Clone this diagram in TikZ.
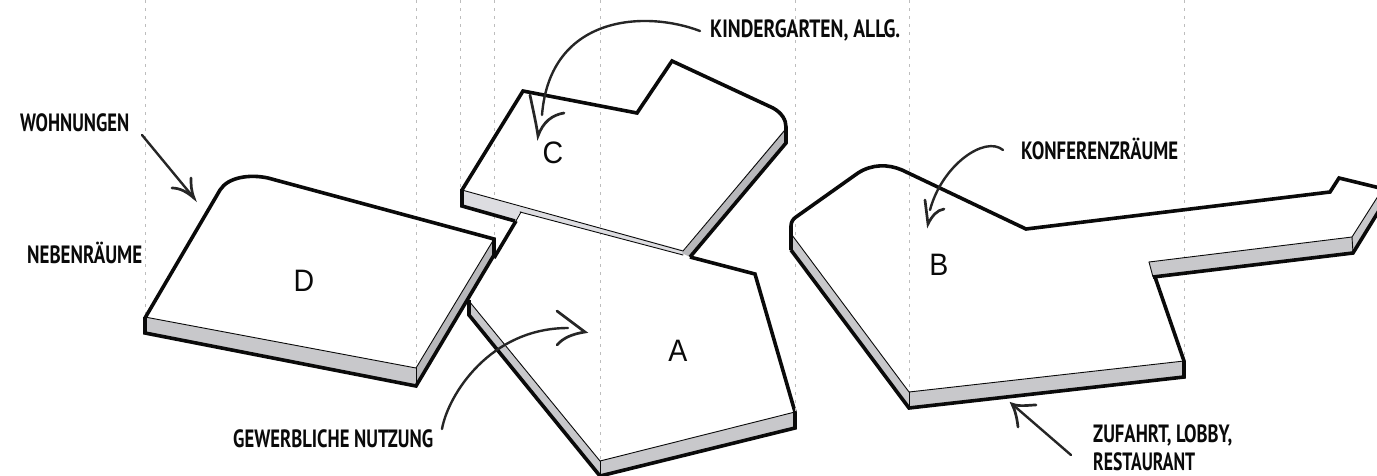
\documentclass[tikz,border=0pt]{standalone}
\usepackage{graphicx}
\usepackage{fontspec}
\setmainfont{Liberation Sans}
\newfontfamily\handfont{PT Sans}
\definecolor{inkc}{HTML}{0A0A0A}
\definecolor{arrowc}{HTML}{262626}
\definecolor{sidec}{HTML}{C8C8CB}
\definecolor{sidelight}{HTML}{DDDDE1}
\definecolor{guidec}{HTML}{BDBDBD}
\newcommand{\hand}[2]{\resizebox{#1}{\height}{\fontsize{25pt}{25pt}\selectfont\handfont\bfseries #2}}
\newcommand{\plate}[1]{\scalebox{0.92}[1]{#1}}
\tikzset{
  heavy/.style={draw=inkc,line width=3.6pt,line join=miter,line cap=butt},
  fine/.style={draw=inkc,line width=0.9pt,line cap=round},
  sideface/.style={fill=sidec,draw=none},
  lightface/.style={fill=sidelight,draw=none},
  guide/.style={draw=guidec,line width=1pt,dash pattern=on 3pt off 5pt},
  shaft/.style={draw=arrowc,line width=2.4pt,line cap=round},
  barb/.style={draw=arrowc,line width=2.7pt,line cap=round,line join=miter},
  note/.style={anchor=base west,inner sep=0pt,text=inkc},
  letter/.style={inner sep=0pt,font=\fontsize{31pt}{31pt}\selectfont,text=inkc}
}
\begin{document}
\begin{tikzpicture}[x=1pt,y=-1pt]
\useasboundingbox (0,0) rectangle (1377,475);
\clip (0,0) rectangle (1377,475);
% A lies beneath C and D
\fill[sideface] (469,301) -- (469,315) -- (600,476) -- (600,461) -- cycle;
\fill[sideface] (600,461) -- (600,476) -- (795,428) -- (795,412) -- cycle;
\draw[heavy] (516,221) -- (494,258);
\draw[heavy] (690,257) -- (755,274) -- (795,412) -- (795,428) -- (600,476) -- (469,315) -- (469,300);
\draw[fine] (469,301) -- (600,461) -- (795,412);
\draw[fine] (600,461) -- (600,476);
% white tops of C and D
\fill[white] (145,317) -- (220,190) .. controls (228,177) and (250,174) .. (268,178) -- (494,239) -- (416,368) -- cycle;
\fill[white] (523,91) -- (462,190) -- (683,253) -- (786,130) -- (773,108) -- (672,61) -- (637,113) -- cycle;
% guide lines
\draw[guide] (145,0) -- (145,318);
\draw[guide] (416,0) -- (416,368);
\draw[guide] (460,0) -- (460,190);
\draw[guide] (494,0) -- (494,240);
\draw[guide] (600,0) -- (600,461);
\draw[guide] (795,0) -- (795,412);
\draw[guide] (909,0) -- (909,392);
\draw[guide] (1184,0) -- (1184,361);
% D
\fill[sideface] (145,317) -- (145,333) -- (416,386) -- (416,368) -- cycle;
\fill[sidec!92!black] (416,368) -- (416,386) -- (494,255) -- (494,239) -- cycle;
\draw[heavy] (145,318) -- (220,190) .. controls (228,177) and (250,174) .. (268,178) -- (494,239) -- (494,255) -- (416,386) -- (145,333) -- (145,317);
\draw[fine] (145,317) -- (416,368) -- (494,239);
\draw[fine] (416,368) -- (416,386);
% C
\fill[lightface] (462,190) -- (521,207) -- (520,212) -- (515,221) -- (462,206) -- cycle;
\fill[lightface] (521,207) -- (683,250) -- (684,255) -- (520,212) -- cycle;
\fill[sidec!92!black] (784,130) -- (786,143) -- (690,257) -- (682,253) -- cycle;
\draw[heavy] (462,190) -- (523,91) -- (637,113) -- (672,61) -- (773,108) .. controls (782,113) and (786,120) .. (786,127) -- (786,143) -- (690,257);
\draw[heavy] (462,189) -- (462,206) -- (515,221);
\draw[fine] (462,190) -- (683,251) -- (785,130);
\draw[fine] (520,212) -- (683,255);
\draw[fine] (521,212) -- (516,221);
% B
\fill[sideface] (792,235) -- (791,250) -- (909,408) -- (909,392) -- cycle;
\fill[sideface] (909,392) -- (909,408) -- (1184,377) -- (1184,361) -- cycle;
\fill[sideface] (1149,262) -- (1153,277) -- (1353,253) -- (1352,237) -- cycle;
\fill[sideface] (1352,237) -- (1353,253) -- (1380,209) -- (1380,193) -- cycle;
\draw[heavy] (791,250) -- (791,226) .. controls (791,222) and (793,219) .. (796,217) -- (858,173) .. controls (872,164) and (888,164) .. (902,170) -- (1026,229) -- (1330,192) -- (1339,178) -- (1380,188);
\draw[heavy] (791,250) -- (909,408) -- (1184,377) -- (1184,361) -- (1155,277);
\draw[heavy] (1153,277) -- (1353,253) -- (1380,209);
\draw[fine] (792,235) -- (909,392) -- (1184,361);
\draw[fine] (909,392) -- (909,408);
\draw[fine] (1149,262) -- (1352,237) -- (1380,193);
\draw[fine] (1149,262) -- (1153,277);
\draw[fine] (1352,237) -- (1353,253);
% letters
\node[letter] (la) at (678,351) {\plate{A}};
\node[letter] (lb) at (939,265) {\plate{B}};
\node[letter] (lc) at (553,153) {\plate{C}};
\node[letter] (ld) at (304,281) {\plate{D}};
% notes
\node[note] (nk) at (710,37) {\hand{190pt}{KINDERGARTEN, ALLG.}};
\node[note] (nw) at (20,131) {\hand{109pt}{WOHNUNGEN}};
\node[note] (nn) at (27,263) {\hand{115pt}{NEBENRÄUME}};
\node[note] (nf) at (1021,159) {\hand{157pt}{KONFERENZRÄUME}};
\node[note] (nz) at (1093,442) {\hand{139pt}{ZUFAHRT, LOBBY,}};
\node[note] (nr) at (1093,470) {\hand{102pt}{RESTAURANT}};
\node[note] (ng) at (233,447) {\hand{200pt}{GEWERBLICHE NUTZUNG}};
% leader anchors
\coordinate (ks) at (700,31);
\coordinate (ke) at (542,115);
\coordinate (kt) at (538,136);
\coordinate (ws) at (142,135);
\coordinate (wt) at (194,198);
\coordinate (gs) at (442,429);
\coordinate (ge) at (568,328);
\coordinate (gt) at (585,332);
\coordinate (fs) at (1003,150);
\coordinate (fe) at (930,210);
\coordinate (ft) at (928,224);
\coordinate (zs) at (1071,455);
\coordinate (zt) at (1012,404);
% leaders
\draw[shaft] (ks) .. controls (645,10) and (550,15) .. (ke);
\draw[barb] (530,95) .. controls (533,110) and (536,122) .. (kt) .. controls (543,122) and (552,115) .. (564,113);
\draw[shaft] (ws) -- (wt);
\draw[barb] (172,188) .. controls (180,188) and (187,192) .. (wt) .. controls (191,190) and (191,185) .. (191,178);
\draw[shaft] (gs) .. controls (448,395) and (490,328) .. (ge);
\draw[barb] (557,311) -- (gt) .. controls (572,334) and (563,338) .. (557,345);
\draw[shaft] (fs) .. controls (985,135) and (942,165) .. (fe);
\draw[barb] (925,200) .. controls (926,208) and (927,216) .. (ft) .. controls (932,216) and (937,210) .. (944,209);
\draw[shaft] (zs) -- (zt);
\draw[barb] (1018,427) .. controls (1017,418) and (1015,410) .. (zt) .. controls (1020,407) and (1028,405) .. (1036,405);
\end{tikzpicture}
\end{document}
